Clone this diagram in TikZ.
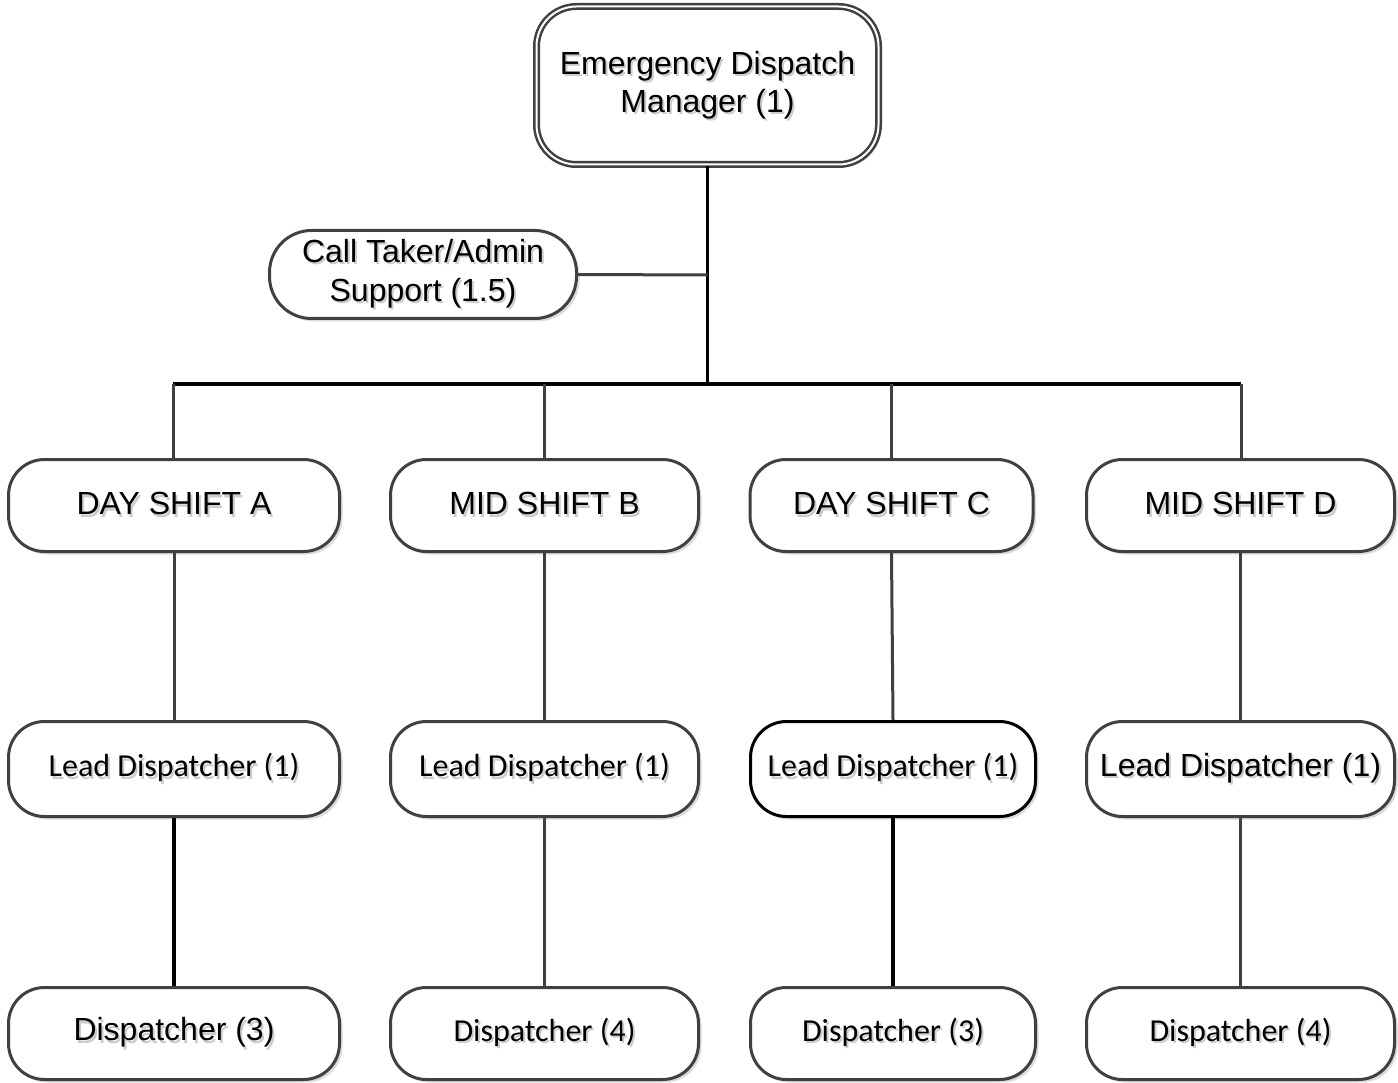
\documentclass[tikz,border=0pt]{standalone}
\usepackage{fontspec}
\setmainfont{Liberation Sans}
\newfontfamily\calibri{Carlito}
\usetikzlibrary{shadows}
% text with a soft grey offset copy underneath
\newcommand\tsh[1]{\rlap{\hspace{2pt}\raisebox{-2.5pt}{\color{black!20}#1}}#1}
% same, lifted a little above the box centre
\newcommand\tup[2][3pt]{\raisebox{#1}{\tsh{#2}}}
\definecolor{boxline}{HTML}{404040}

\tikzset{
  box/.style={draw=boxline, line width=3pt, fill=white, rounded corners=36pt,
    minimum height=92pt, inner sep=0pt, align=center,
    font=\fontsize{32}{39}\selectfont,
    drop shadow={shadow xshift=3pt, shadow yshift=-3pt, fill=black!14, opacity=1}},
  cal/.style={font=\calibri\fontsize{32}{39}\selectfont},
  conn/.style={draw=boxline, line width=3pt},
  trunk/.style={draw=black, line width=3.6pt},
}

\begin{document}
\begin{tikzpicture}[x=1pt, y=-1pt]
\fill[white] (0,0) rectangle (1398,1083);
\useasboundingbox (0,0) rectangle (1398,1083);

% manager
\node[box, double=white, double distance=2pt, line width=2.5pt,
      minimum width=342pt, minimum height=158pt, rounded corners=40pt]
  (mgr) at (707.5,85.5) {\raisebox{5pt}{\begin{tabular}{@{}c@{}}\tsh{Emergency Dispatch}\\[-1pt]\tsh{Manager (1)}\end{tabular}}};

% support
\node[box, minimum width=307pt, minimum height=88pt, rounded corners=42pt]
  (ct) at (423,274.5) {\tsh{Call Taker/Admin}\\\tsh{Support (1.5)}};

% shifts
\node[box, minimum width=331pt] (shA) at (174,505.5) {\tup[4pt]{DAY SHIFT A}};
\node[box, minimum width=308pt] (shB) at (544.5,505.5) {\tup[4pt]{MID SHIFT B}};
\node[box, minimum width=283pt] (shC) at (891.5,505.5) {\tup[4pt]{DAY SHIFT C}};
\node[box, minimum width=308pt] (shD) at (1240.5,505.5) {\tup[4pt]{MID SHIFT D}};

% lead dispatchers
\node[box, cal, minimum width=331pt, minimum height=95pt] (ldA) at (174,769) {\tup{Lead Dispatcher (1)}};
\node[box, cal, minimum width=308pt, minimum height=95pt] (ldB) at (544.5,769) {\tsh{Lead Dispatcher (1)}};
\node[box, cal, draw=black, minimum width=285pt, minimum height=95pt] (ldC) at (893,769) {\tsh{Lead Dispatcher (1)}};
\node[box, minimum width=308pt, minimum height=95pt] (ldD) at (1240.5,769) {\tup{Lead Dispatcher (1)}};

% dispatchers
\node[box, minimum width=331pt] (dpA) at (174,1033.5) {\tup[4pt]{Dispatcher (3)}};
\node[box, cal, minimum width=308pt] (dpB) at (544.5,1033.5) {\tup{Dispatcher (4)}};
\node[box, cal, minimum width=285pt] (dpC) at (893,1033.5) {\tup{Dispatcher (3)}};
\node[box, cal, minimum width=308pt] (dpD) at (1240.5,1033.5) {\tsh{Dispatcher (4)}};

% connectors
\coordinate (busM) at (707.5,384);
\coordinate (ctJ) at (707.5,275);
\coordinate (busL) at (173,384);
\coordinate (busR) at (1241,384);
\draw[trunk] (mgr.south) -- (busM);
\draw[conn] (ct.east) -- (ctJ);
\draw[trunk] (busL) -- (busR);
\draw[conn] (busL) -- (busL |- shA.north);
\draw[conn] (shB.north |- busM) -- (shB.north);
\draw[conn] (shC.north |- busM) -- (shC.north);
\draw[conn] (busR) -- (busR |- shD.north);

\draw[conn] (shA.south) -- (ldA.north);
\draw[conn] (shB.south) -- (ldB.north);
\draw[conn] (shC.south) -- (ldC.north);
\draw[conn] (shD.south) -- (ldD.north);

\draw[trunk] (ldA.south) -- (dpA.north);
\draw[conn] (ldB.south) -- (dpB.north);
\draw[trunk] (ldC.south) -- (dpC.north);
\draw[conn] (ldD.south) -- (dpD.north);
\end{tikzpicture}
\end{document}
